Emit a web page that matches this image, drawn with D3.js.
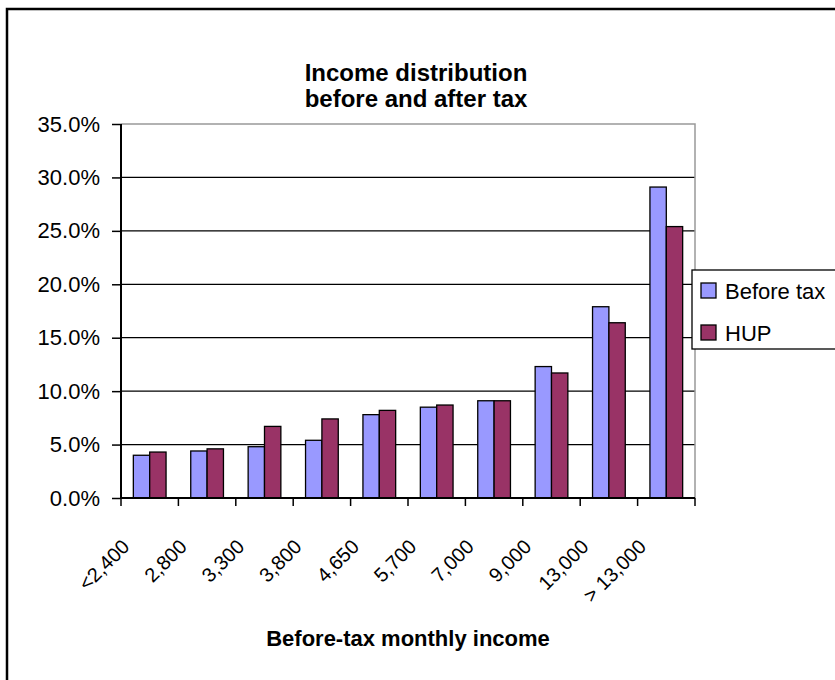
<!DOCTYPE html>
<html>
<head>
<meta charset="utf-8">
<script src="https://cdn.jsdelivr.net/npm/d3@7"></script>
<style>
  body { margin: 0; background: #fff; }
  svg text { font-family: "Liberation Sans", Arial, sans-serif; }
</style>
</head>
<body>
<div id="chart"></div>
<script>
const width = 835
const height = 680
const margin = { top: 124, right: 140, bottom: 182, left: 121 }

const categories = ["<2,400", "2,800", "3,300", "3,800", "4,650", "5,700", "7,000", "9,000", "13,000", "> 13,000"]
const series = ["Before tax", "HUP"]
const beforeTax = [4.0, 4.4, 4.8, 5.4, 7.8, 8.5, 9.1, 12.3, 17.9, 29.1]
const hup = [4.3, 4.6, 6.7, 7.4, 8.2, 8.7, 9.1, 11.7, 16.4, 25.4]
const yTicks = [0, 5, 10, 15, 20, 25, 30, 35]
const colors = ["#9999ff", "#993366"]

const data = categories.map((c, i) => ({ cat: c, values: [beforeTax[i], hup[i]] }))

const innerW = width - margin.left - margin.right
const innerH = height - margin.top - margin.bottom

let svg = d3.select("#chart")
    .append("svg")
    .attr("width", width)
    .attr("height", height)

// outer chart border, runs off the right and bottom edge
svg.append("rect")
    .attr("x", 7)
    .attr("y", 9)
    .attr("width", width)
    .attr("height", height)
    .attr("fill", "none")
    .attr("stroke", "#000")
    .attr("stroke-width", 2.5)

// title
svg.append("text")
    .attr("x", 416)
    .attr("y", 81)
    .attr("text-anchor", "middle")
    .style("font-size", "24px")
    .style("font-weight", "bold")
    .selectAll("tspan")
    .data(["Income distribution", "before and after tax"])
    .join("tspan")
    .attr("x", 416)
    .attr("dy", (d, i) => i == 0 ? 0 : 26)
    .text(d => d)

let g = svg.append("g")
    .attr("transform", "translate(" + margin.left + "," + margin.top + ")")

const x0 = d3.scaleBand()
    .domain(categories)
    .range([0, innerW])
    .paddingInner(0.43)
    .paddingOuter(0.215)

const x1 = d3.scaleBand()
    .domain(series)
    .range([0, x0.bandwidth()])

const y = d3.scaleLinear()
    .domain([0, 35])
    .range([innerH, 0])

// grid lines
g.selectAll(".grid")
    .data(yTicks.filter(t => t > 0 && t < 35))
    .join("line")
    .attr("x1", 0)
    .attr("x2", innerW)
    .attr("y1", d => y(d))
    .attr("y2", d => y(d))
    .attr("stroke", "#000")
    .attr("stroke-width", 1.2)

// plot area border (gray)
g.append("path")
    .attr("d", "M0,0H" + innerW + "V" + innerH)
    .attr("fill", "none")
    .attr("stroke", "#999")
    .attr("stroke-width", 1.5)

// bars
g.selectAll(".group")
    .data(data)
    .join("g")
    .attr("transform", d => "translate(" + x0(d.cat) + ",0)")
    .selectAll("rect")
    .data(d => d.values.map((v, i) => ({ key: series[i], v: v, i: i })))
    .join("rect")
    .attr("x", d => x1(d.key))
    .attr("y", d => y(d.v))
    .attr("width", x1.bandwidth())
    .attr("height", d => innerH - y(d.v))
    .attr("fill", d => colors[d.i])
    .attr("stroke", "#000")
    .attr("stroke-width", 1.3)

// y axis
let yAxis = g.append("g")
    .call(d3.axisLeft(y)
        .tickValues(yTicks)
        .tickSize(9)
        .tickPadding(12)
        .tickFormat(d => d3.format(".1f")(d) + "%"))
yAxis.select(".domain").attr("stroke-width", 2).attr("d", "M0,0V" + innerH)
yAxis.selectAll(".tick line").attr("stroke-width", 1.5)
yAxis.selectAll("text")
    .style("font-size", "22px")
    .style("font-family", "Liberation Sans, Arial, sans-serif")
    .attr("fill", "#000")

// x axis with ticks at band boundaries
let xAxis = g.append("g")
    .attr("transform", "translate(0," + innerH + ")")
xAxis.append("line")
    .attr("x1", 0).attr("x2", innerW)
    .attr("stroke", "#000").attr("stroke-width", 2)
xAxis.selectAll(".xt")
    .data(d3.range(categories.length + 1))
    .join("line")
    .attr("x1", i => i * x0.step())
    .attr("x2", i => i * x0.step())
    .attr("y1", 0)
    .attr("y2", 8)
    .attr("stroke", "#000")
    .attr("stroke-width", 1.5)
xAxis.selectAll(".xl")
    .data(categories)
    .join("text")
    .attr("text-anchor", "end")
    .attr("transform", d => "translate(" + (x0(d) + x0.bandwidth() / 2 - 19) + ",50) rotate(-45)")
    .style("font-size", "20px")
    .text(d => d)

// x axis title
svg.append("text")
    .attr("x", 408)
    .attr("y", 646)
    .attr("text-anchor", "middle")
    .style("font-size", "22px")
    .style("font-weight", "bold")
    .text("Before-tax monthly income")

// legend
let legend = svg.append("g")
    .attr("transform", "translate(692,270)")
legend.append("rect")
    .attr("width", 160)
    .attr("height", 79)
    .attr("fill", "#fff")
    .attr("stroke", "#000")
    .attr("stroke-width", 1.3)
let items = legend.selectAll(".item")
    .data(series)
    .join("g")
    .attr("transform", (d, i) => "translate(9," + (13 + i * 42) + ")")
items.append("rect")
    .attr("width", 15)
    .attr("height", 15)
    .attr("fill", (d, i) => colors[i])
    .attr("stroke", "#000")
    .attr("stroke-width", 1.3)
items.append("text")
    .attr("x", 24)
    .attr("y", 16)
    .style("font-size", "22px")
    .text(d => d)
</script>
</body>
</html>
